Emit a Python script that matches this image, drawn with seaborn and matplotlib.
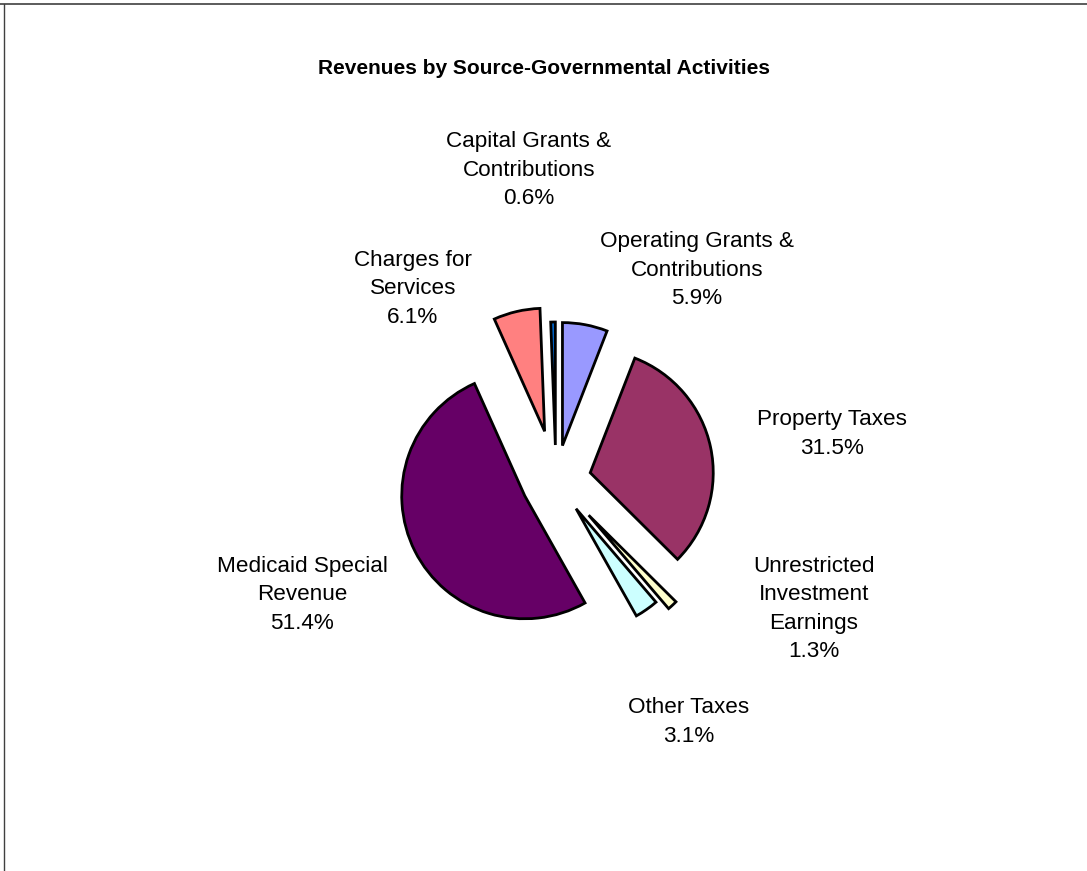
import matplotlib
matplotlib.use("Agg")
import matplotlib.pyplot as plt
from matplotlib.lines import Line2D
import seaborn as sns

# Revenue sources, in clockwise order starting from 12 o'clock
categories = [
    "Operating Grants &\nContributions",
    "Property Taxes",
    "Unrestricted\nInvestment\nEarnings",
    "Other Taxes",
    "Medicaid Special\nRevenue",
    "Charges for\nServices",
    "Capital Grants &\nContributions",
]
shares = [5.9, 31.5, 1.3, 3.1, 51.4, 6.1, 0.6]
slice_colors = ["#9999FF", "#993366", "#FFFFCC", "#CCFFFF", "#660066", "#FF8080", "#0066CC"]
# how far each wedge is pulled out from the centre (pixels)
explode = [35, 35, 48, 35, 35, 50, 35]

title = "Revenues by Source-Governmental Activities"

W, H = 1087, 871
sns.set_theme(style="white")
plt.rcParams["font.family"] = ["Liberation Sans", "DejaVu Sans"]

fig = plt.figure(figsize=(W / 100, H / 100), dpi=100)
fig.patch.set_facecolor("white")
ax = fig.add_axes([0, 0, 1, 1])

palette = sns.color_palette(slice_colors)
ax.pie(
    shares,
    colors=palette,
    startangle=90,
    counterclock=False,
    explode=explode,
    center=(556, H - 480),
    radius=123,
    wedgeprops=dict(edgecolor="black", linewidth=2.0, joinstyle="miter"),
    frame=False,
)
ax.set_xlim(0, W)
ax.set_ylim(0, H)
ax.set_aspect("equal")
ax.axis("off")

# label anchor points (pixel coordinates measured from the top-left)
label_pos = [(697, 270), (832, 434), (814, 609), (689, 722), (302, 595), (413, 289), (529, 170)]
for name, v, (lx, ly) in zip(categories, shares, label_pos):
    ax.text(lx, H - ly, f"{name}\n{v:.1f}%", ha="center", va="center",
            fontsize=16.2, color="black", linespacing=1.46, multialignment="center")

ax.text(544, H - 69, title, ha="center", va="center", fontsize=15,
        fontweight="bold", color="black")

# chart frame edges
fig.add_artist(Line2D([0, 1], [1 - 4.5 / H, 1 - 4.5 / H], transform=fig.transFigure,
                      color="#404040", linewidth=1.2))
fig.add_artist(Line2D([4 / W, 4 / W], [0, 1 - 4.5 / H], transform=fig.transFigure,
                      color="#404040", linewidth=1.0))

fig.savefig("out.png", dpi=100, facecolor="white")
